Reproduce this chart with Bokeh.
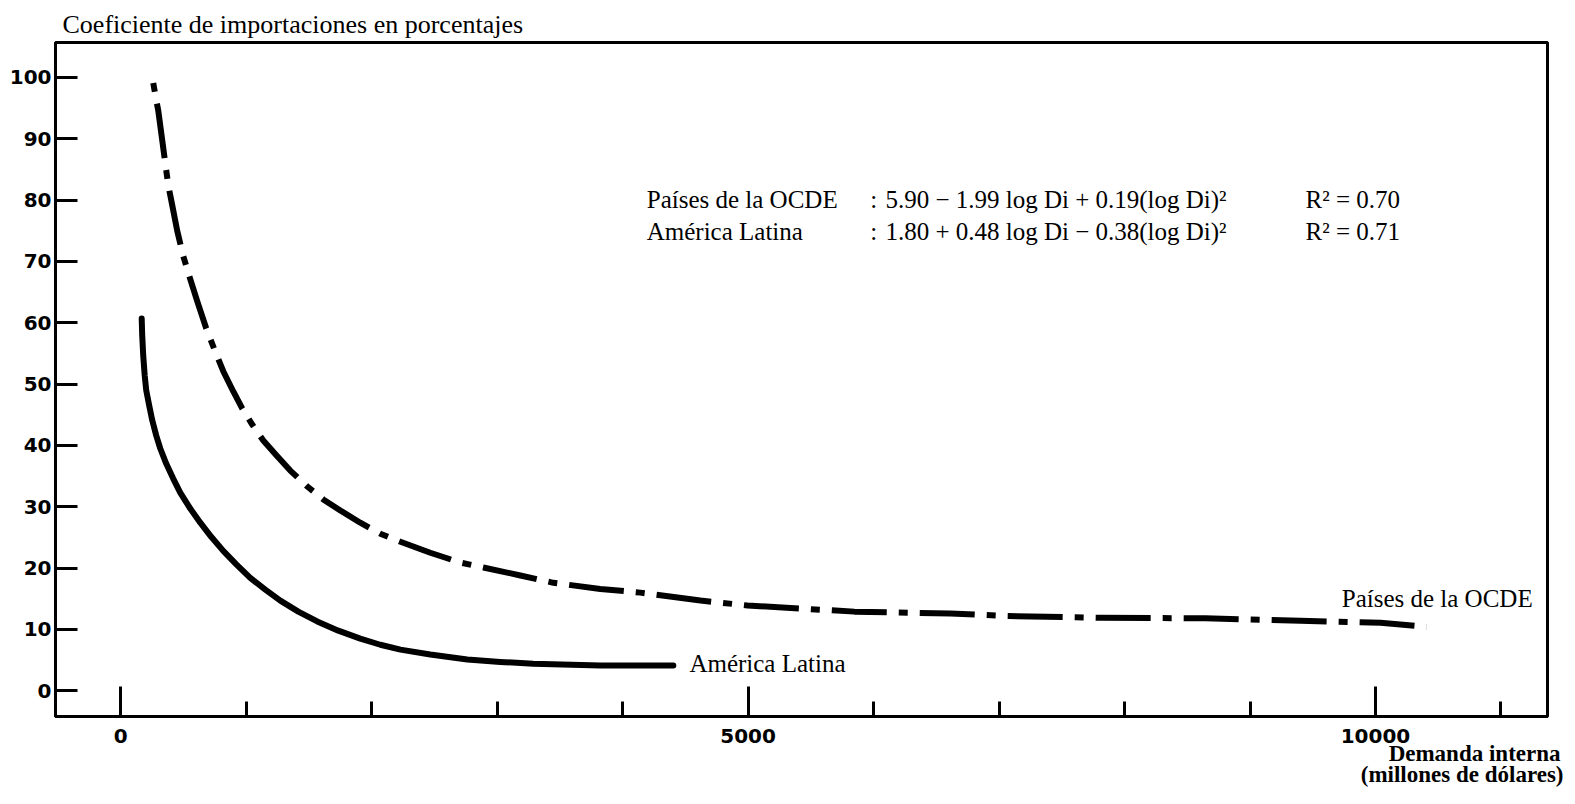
from bokeh.plotting import figure
from bokeh.models import Range1d, FixedTicker, Label, Title
from bokeh.embed import file_html
from bokeh.resources import INLINE

# ---- data ----
ocde_x = [259, 283, 299, 331, 355, 379, 411, 450, 498, 554, 610, 681, 753, 817, 897,
          969, 1048, 1136, 1240, 1351, 1487, 1614, 1750, 1909, 2069, 2229, 2467, 2706,
          2890, 3185, 3448, 3822, 4141, 4620, 4995, 5416, 5847, 6612, 7043, 7808, 8645,
          9402, 10040, 10407]
ocde_y = [99.1, 96.3, 94.6, 89.7, 86.0, 82.4, 79.1, 75.0, 70.9, 67.1, 63.5, 59.1, 55.3,
          52.1, 48.8, 46.0, 43.4, 40.8, 38.4, 35.9, 33.3, 31.2, 29.4, 27.4, 25.6, 24.3,
          22.5, 20.9, 20.1, 18.8, 17.6, 16.6, 16.0, 14.7, 13.9, 13.4, 12.9, 12.6, 12.2,
          11.9, 11.8, 11.4, 11.1, 10.4]

latam_x = [167, 171, 179, 191, 203, 227, 251, 283, 315, 363, 418, 474, 554, 634, 721,
           817, 921, 1032, 1152, 1272, 1415, 1566, 1734, 1909, 2069, 2229, 2467, 2762,
           3025, 3288, 3822, 4404]
latam_y = [60.7, 58.0, 54.7, 51.4, 49.0, 46.5, 44.1, 41.6, 39.5, 37.0, 34.6, 32.3, 29.7,
           27.4, 25.1, 22.8, 20.6, 18.4, 16.5, 14.7, 12.9, 11.3, 9.8, 8.5, 7.5, 6.7, 5.9,
           5.1, 4.7, 4.4, 4.1, 4.1]

y_ticks = [0, 10, 20, 30, 40, 50, 60, 70, 80, 90, 100]
x_major_ticks = [0, 5000, 10000]
x_minor_ticks = [1000, 2000, 3000, 4000, 6000, 7000, 8000, 9000, 11000]

title_text = "Coeficiente de importaciones en porcentajes"
x_title_1 = "Demanda interna"
x_title_2 = "(millones de dólares)"
series_names = ["Países de la OCDE", "América Latina"]
equations = ["5.90 − 1.99 log Di + 0.19(log  Di)²", "1.80 + 0.48 log Di − 0.38(log  Di)²"]
r2_texts = ["R² = 0.70", "R² = 0.71"]

SERIF = "Liberation Serif"
TXT = "25px"

p = figure(width=1567, height=796, output_backend="svg", toolbar_location=None,
           x_range=Range1d(-520, 11371), y_range=Range1d(-4.2, 105.7),
           min_border_left=55, min_border_right=20, min_border_top=42, min_border_bottom=80)
p.xgrid.visible = False
p.ygrid.visible = False
p.outline_line_color = "black"
p.outline_line_width = 3
p.background_fill_color = "white"
p.border_fill_color = "white"

# top title (y-axis caption)
p.title.text = title_text
p.title.align = "left"
p.title.offset = 7
p.title.standoff = 8
p.title.text_font = SERIF
p.title.text_font_style = "normal"
p.title.text_font_size = "26px"
p.title.text_color = "black"

# axes
for ax in (p.xaxis[0], p.yaxis[0]):
    ax.axis_line_width = 3
    ax.axis_line_color = "black"
    ax.major_tick_line_width = 3
    ax.minor_tick_line_width = 3
    ax.major_tick_out = 0
    ax.minor_tick_out = 0
    ax.major_label_text_font = "DejaVu Sans"
    ax.major_label_text_font_style = "bold"
    ax.major_label_text_font_size = "20px"
    ax.major_label_text_color = "black"

p.yaxis.ticker = FixedTicker(ticks=y_ticks)
p.yaxis.major_tick_in = 22
p.yaxis.minor_tick_line_color = None
p.yaxis.major_label_standoff = 4

xa = p.xaxis[0]
xa.ticker = FixedTicker(ticks=x_major_ticks, minor_ticks=x_minor_ticks)
xa.major_tick_in = 30
xa.minor_tick_in = 15
xa.major_label_standoff = 12

# x-axis caption, right-aligned below the frame (two lines)
p.add_layout(Title(text=x_title_1, align="right", offset=-13, standoff=-14,
                   text_font=SERIF, text_font_style="bold", text_font_size="23px",
                   text_color="black"), "below")
p.add_layout(Title(text=x_title_2, align="right", offset=-16, standoff=2,
                   text_font=SERIF, text_font_style="bold", text_font_size="23px",
                   text_color="black"), "below")

# curves
p.line(ocde_x, ocde_y, line_width=6, line_color="black",
       line_dash="9 12 55 12", line_cap="butt", line_join="round")
p.line(latam_x, latam_y, line_width=6, line_color="black", line_cap="round",
       line_join="round")

def lab(x, y, text, align="left", size=TXT, style="normal"):
    p.add_layout(Label(x=x, y=y, text=text, text_font=SERIF, text_font_size=size,
                       text_align=align, text_baseline="middle", text_color="black",
                       text_font_style=style))

# equations block
for i, yy in enumerate([80.1, 74.9]):
    lab(4192, yy, series_names[i])
    lab(5974, yy, ":")
    lab(6094, yy, equations[i])
    lab(9442, yy, r2_texts[i])

# curve labels
lab(9731, 15.1, series_names[0])
lab(4532, 4.4, series_names[1])

open("out.html", "w").write(file_html(p, INLINE))
